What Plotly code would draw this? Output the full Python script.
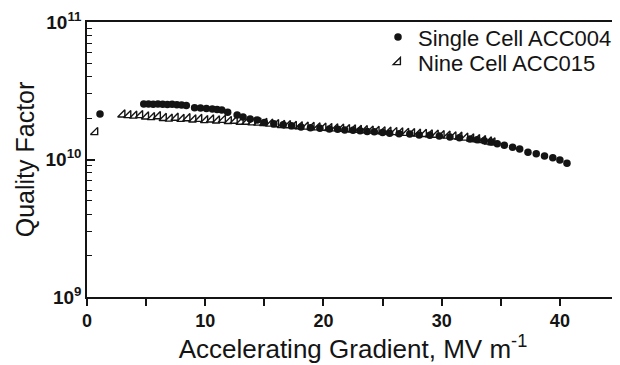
import plotly.graph_objects as go

# Single Cell ACC004 (filled circles)
single_x = [1.1, 4.8, 5.2, 5.6, 6.0, 6.4, 6.8, 7.2, 7.6, 8.0, 8.4,
            9.1, 9.6, 10.1, 10.6, 11.0, 11.4, 11.9, 12.7, 13.2, 13.8,
            14.4, 15.0, 15.8, 16.6, 17.3, 18.1, 18.9, 19.7, 20.5, 21.2,
            21.8, 22.5, 23.1, 23.7, 24.3, 25.0, 25.6, 26.4, 27.3, 28.1,
            29.0, 29.8, 30.7, 31.5, 32.4, 33.0, 33.6, 34.2, 34.7, 35.3,
            36.0, 36.6, 37.3, 38.0, 38.7, 39.4, 40.0, 40.6]
single_q = [2.14e10, 2.53e10, 2.53e10, 2.52e10, 2.53e10, 2.52e10, 2.51e10, 2.52e10, 2.50e10, 2.49e10, 2.47e10,
            2.38e10, 2.37e10, 2.35e10, 2.33e10, 2.31e10, 2.29e10, 2.21e10, 2.11e10, 2.04e10, 1.97e10,
            1.94e10, 1.86e10, 1.82e10, 1.79e10, 1.76e10, 1.72e10, 1.70e10, 1.69e10, 1.67e10, 1.66e10,
            1.64e10, 1.63e10, 1.62e10, 1.60e10, 1.59e10, 1.57e10, 1.55e10, 1.54e10, 1.53e10, 1.51e10,
            1.50e10, 1.48e10, 1.46e10, 1.44e10, 1.41e10, 1.39e10, 1.37e10, 1.34e10, 1.30e10, 1.27e10,
            1.23e10, 1.19e10, 1.13e10, 1.10e10, 1.06e10, 1.03e10, 0.99e10, 0.94e10]

# Nine Cell ACC015 (triangles)
nine_x = [0.7, 3.0, 3.5, 4.0, 4.5, 5.0, 5.5, 6.0, 6.5, 7.0, 7.5, 8.0, 8.5, 9.0,
          9.5, 10.0, 10.5, 11.0, 11.5, 12.0, 12.5, 13.0, 13.5, 14.0, 14.5,
          15.0, 15.5, 16.0, 16.5, 17.0, 17.5, 18.0, 18.5, 19.0, 19.5, 20.0,
          20.5, 21.0, 21.5, 22.0, 22.5, 23.0, 23.5, 24.0, 24.5, 25.0, 25.5,
          26.0, 26.5, 27.0, 27.5, 28.0, 28.5, 29.0, 29.5, 30.0, 30.5, 31.0,
          31.5, 32.0, 32.5, 33.0, 33.5, 34.0, 34.3]
nine_q = [1.58e10, 2.12e10, 2.10e10, 2.08e10, 2.10e10, 2.05e10, 2.03e10, 2.06e10, 2.00e10, 1.98e10, 2.01e10,
          1.97e10, 1.99e10, 1.95e10, 1.97e10, 1.93e10, 1.95e10, 1.92e10, 1.94e10, 1.90e10, 1.91e10,
          1.88e10, 1.88e10, 1.86e10, 1.85e10, 1.84e10, 1.82e10, 1.80e10, 1.78e10, 1.77e10, 1.75e10,
          1.74e10, 1.73e10, 1.72e10, 1.71e10, 1.70e10, 1.69e10, 1.68e10, 1.67e10, 1.66e10, 1.65e10,
          1.64e10, 1.63e10, 1.62e10, 1.61e10, 1.60e10, 1.59e10, 1.58e10, 1.57e10, 1.56e10, 1.55e10,
          1.54e10, 1.53e10, 1.52e10, 1.51e10, 1.50e10, 1.49e10, 1.47e10, 1.46e10, 1.44e10, 1.42e10,
          1.40e10, 1.38e10, 1.35e10, 1.33e10]

x_tickvals = [0, 5, 10, 15, 20, 25, 30, 35, 40, 45]
x_ticktext = ["0", "", "10", "", "20", "", "30", "", "40", ""]
y_tickvals = [1e9, 1e10, 1e11]
y_ticktext = ["10<sup>9</sup>", "10<sup>10</sup>", "10<sup>11</sup>"]

FONT = "Liberation Sans, Arial, sans-serif"
INK = "#141414"

fig = go.Figure()
fig.add_trace(go.Scatter(
    x=single_x, y=single_q, mode="markers", name="Single Cell ACC004",
    marker=dict(symbol="circle", size=7.5, color=INK), legend="legend",
))
fig.add_trace(go.Scatter(
    x=nine_x, y=nine_q, mode="markers", name="Nine Cell ACC015",
    marker=dict(symbol="triangle-se-open", size=8, color=INK,
                line=dict(width=1.4, color=INK)), legend="legend2",
))

leg_common = dict(xanchor="left", yanchor="middle", bgcolor="rgba(0,0,0,0)",
                  font=dict(size=22, family=FONT, color=INK), itemwidth=30)

# page has an 8px body margin: figure is 612x357 so it fits the 620x365 window
fig.update_layout(
    width=612, height=357,
    margin=dict(l=79, r=1, t=14, b=68),
    paper_bgcolor="white", plot_bgcolor="white",
    font=dict(family=FONT, color=INK),
    showlegend=True,
    legend=dict(x=0.547, y=0.945, **leg_common),
    legend2=dict(x=0.547, y=0.853, **leg_common),
    xaxis=dict(
        range=[0, 45], tickvals=x_tickvals, ticktext=x_ticktext,
        ticks="outside", ticklen=7, tickwidth=1.5, tickcolor=INK,
        showline=True, linecolor=INK, linewidth=1.5, mirror=True,
        showgrid=False, zeroline=False, automargin=False,
        tickfont=dict(size=18, family=FONT, weight="bold"),
        title=dict(text="Accelerating Gradient, MV m<sup>-1</sup>",
                   font=dict(size=26, family=FONT), standoff=8),
    ),
    yaxis=dict(
        type="log", range=[9, 11], tickvals=y_tickvals, ticktext=y_ticktext,
        ticks="inside", ticklen=8, tickwidth=1.5, tickcolor=INK,
        minor=dict(ticks="inside", ticklen=5, tickwidth=1.2, tickcolor=INK,
                   dtick="D1", showgrid=False),
        showline=True, linecolor=INK, linewidth=1.5, mirror=True,
        showgrid=False, zeroline=False, automargin=False,
        tickfont=dict(size=19, family=FONT, weight="bold"),
        title=dict(text="Quality Factor", font=dict(size=25, family=FONT), standoff=4),
    ),
)

fig.write_html("out.html")
